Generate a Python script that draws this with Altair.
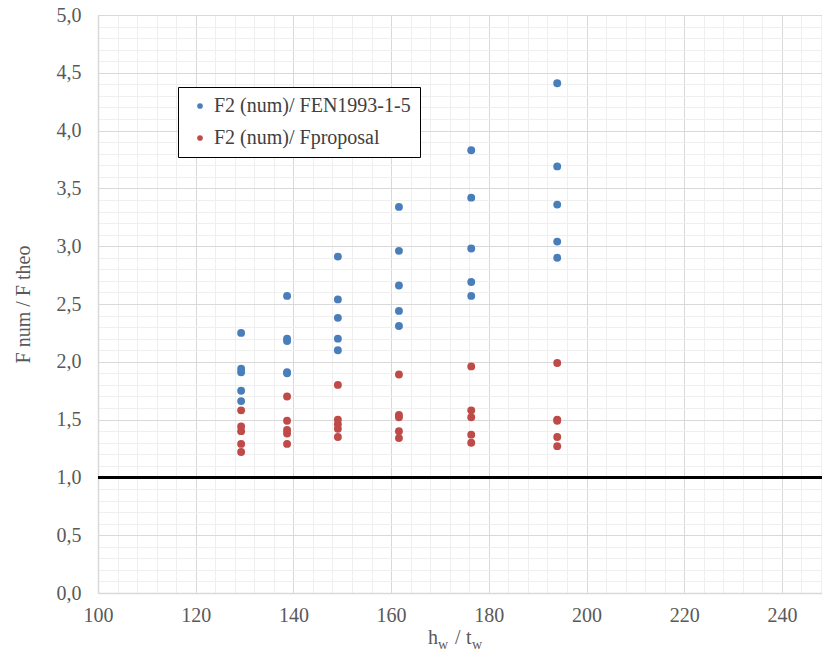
import altair as alt
import pandas as pd

# data
x_groups = [129.3, 138.7, 149.1, 161.6, 176.4, 194.0]
blue_vals = [
    [2.25, 1.94, 1.91, 1.75, 1.66],
    [2.57, 2.20, 2.18, 1.91, 1.90],
    [2.91, 2.54, 2.38, 2.20, 2.10],
    [3.34, 2.96, 2.66, 2.44, 2.31],
    [3.83, 3.42, 2.98, 2.69, 2.57],
    [4.41, 3.69, 3.36, 3.04, 2.90],
]
red_vals = [
    [1.58, 1.44, 1.40, 1.29, 1.22],
    [1.70, 1.49, 1.41, 1.38, 1.29],
    [1.80, 1.50, 1.46, 1.42, 1.35],
    [1.89, 1.54, 1.52, 1.40, 1.34],
    [1.96, 1.58, 1.52, 1.37, 1.30],
    [1.99, 1.50, 1.49, 1.35, 1.27],
]
series = ["F2 (num)/ FEN1993-1-5", "F2 (num)/ Fproposal"]
colors = ["#4a7ebb", "#be4b48"]
x_major = [100, 120, 140, 160, 180, 200, 220, 240]
x_minor = [v for v in range(100, 249, 4) if v % 20 != 0]
y_major = [i / 2 for i in range(0, 11)]
y_minor = [i / 10 for i in range(0, 51) if i % 5 != 0]
ref_line = [1.0]

rows = []
for xg, bl, rd in zip(x_groups, blue_vals, red_vals):
    for v in bl:
        rows.append({"x": xg, "y": v, "s": series[0]})
    for v in rd:
        rows.append({"x": xg, "y": v, "s": series[1]})
df = pd.DataFrame(rows)

FONT = "Liberation Serif"
W, H = 724, 578
xscale = alt.Scale(domain=[100, 248.2], nice=False, zero=False)
yscale = alt.Scale(domain=[0, 5], nice=False)

base = alt.Chart(df)

minor = base.mark_point(opacity=0).encode(
    x=alt.X("x:Q", scale=xscale, axis=alt.Axis(values=x_minor, orient="bottom", grid=True,
            gridColor="#efefef", gridWidth=1, labels=False, ticks=False, domain=False, title=None)),
    y=alt.Y("y:Q", scale=yscale, axis=alt.Axis(values=y_minor, orient="left", grid=True,
            gridColor="#efefef", gridWidth=1, labels=False, ticks=False, domain=False, title=None)),
)

major = base.mark_point(opacity=0).encode(
    x=alt.X("x:Q", scale=xscale, axis=alt.Axis(values=x_major, orient="bottom", grid=True,
            gridColor="#d9d9d9", gridWidth=1, ticks=False, domain=True, domainColor="#d9d9d9",
            domainWidth=1.5, labelFont=FONT, labelFontSize=20, labelColor="#595959",
            labelPadding=12, title=None, labelFlush=False)),
    y=alt.Y("y:Q", scale=yscale, axis=alt.Axis(values=y_major, orient="left", grid=True,
            gridColor="#d9d9d9", gridWidth=1, ticks=False, domain=True, domainColor="#d9d9d9",
            domainWidth=1.5, labelFont=FONT, labelFontSize=20, labelColor="#595959",
            labelPadding=17, labelExpr="replace(format(datum.value, '.1f'), '.', ',')",
            title="F num / F theo", titleFont=FONT, titleFontSize=20, titleFontWeight="normal",
            titleColor="#595959", titleX=-65)),
)

pts = base.mark_circle(size=62, opacity=1).encode(
    x=alt.X("x:Q", scale=xscale, axis=None),
    y=alt.Y("y:Q", scale=yscale, axis=None),
    color=alt.Color("s:N", scale=alt.Scale(domain=series, range=colors),
                    legend=alt.Legend(title=None, orient="none", legendX=80, legendY=72,
                                      fillColor="white", strokeColor="black", padding=9,
                                      labelFont=FONT, labelFontSize=20, labelColor="#404040",
                                      symbolType="circle", symbolSize=32, rowPadding=12,
                                      labelOffset=4, symbolOffset=3, labelLimit=400)),
)

rule = alt.Chart(pd.DataFrame({"r": ref_line})).mark_rule(color="black", strokeWidth=3).encode(
    y=alt.Y("r:Q", scale=yscale, axis=None)
)

def txt(t, x, y, size):
    return alt.Chart(pd.DataFrame({"a": [0]})).mark_text(
        text=t, align="left", baseline="alphabetic", font=FONT, fontSize=size, color="#595959"
    ).encode(x=alt.value(x), y=alt.value(y))

title_parts = [
    txt("h", 330, 629, 20),
    txt("w", 340, 634, 14),
    txt("/", 357, 629, 20),
    txt("t", 368, 629, 20),
    txt("w", 374, 634, 14),
]

chart = alt.layer(minor, major, rule, pts, *title_parts).resolve_axis(
    x="independent", y="independent"
).properties(
    width=W, height=H,
    padding={"left": 98, "top": 15, "right": 0, "bottom": 63},
    autosize=alt.AutoSizeParams(type="none"),
).configure_view(stroke=None).configure(font=FONT, background="white")

chart.save("out.html", embed_options={"renderer": "svg", "actions": False})
